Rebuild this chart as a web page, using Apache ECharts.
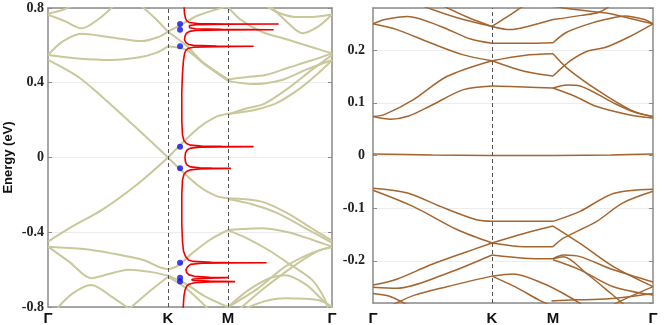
<!DOCTYPE html>
<html>
<head>
<meta charset="utf-8">
<script src="https://cdn.jsdelivr.net/npm/echarts@6/dist/echarts.min.js"></script>
<style>
  html, body { margin: 0; padding: 0; background: #fff; }
  #main { width: 664px; height: 325px; }
</style>
</head>
<body>
<div id="main"></div>
<script>
// k-path positions of the high-symmetry points, and their labels
const kTicksLeft = [0, 1, 1.5, 2.366];
const kTicksRight = [0, 1, 1.513, 2.353];
const kLabels = ['Γ', 'K', 'M', 'Γ'];

// ---- left panel bands: [k, E (eV)] ----
const diracUp = [[0, 0.522], [0.25, 0.432], [0.45, 0.325], [0.75, 0.15], [1, 0.0], [1.25, 0.156], [1.39, 0.215], [1.5, 0.234], [1.7, 0.252], [1.9, 0.29], [2.1, 0.37], [2.25, 0.45], [2.366, 0.52]];
const diracUpM = [[1.5, 0.229], [1.65, 0.262], [1.8, 0.287], [2.0, 0.37], [2.2, 0.47], [2.366, 0.548]];
const diracDown = [[0, -0.45], [0.2, -0.37], [0.45, -0.28], [0.75, -0.14], [1, 0.0], [1.25, -0.15], [1.4, -0.205], [1.5, -0.218], [1.78, -0.236], [2.0, -0.3], [2.2, -0.38], [2.366, -0.445]];
const diracDownM = [[1.5, -0.222], [1.7, -0.25], [1.92, -0.3], [2.15, -0.38], [2.366, -0.457]];
const upperA = [[0, 0.764], [0.14, 0.73], [0.28, 0.691], [0.42, 0.74], [0.56, 0.82]];
const upperB = [[0, 0.77], [0.1, 0.785], [0.2, 0.81]];
const upperC = [[0, 0.548], [0.12, 0.62], [0.28, 0.662], [0.5, 0.645], [0.78, 0.623], [0.92, 0.645], [1, 0.673], [1.12, 0.715], [1.25, 0.76], [1.5, 0.81]];
const upperD = [[0, 0.548], [0.25, 0.53], [0.53, 0.522], [0.75, 0.535], [0.9, 0.56], [1, 0.595], [1.155, 0.575], [1.3, 0.5], [1.5, 0.41]];
const upperE = [[0.78, 0.81], [0.9, 0.74], [1, 0.673], [1.15, 0.6], [1.3, 0.505], [1.5, 0.418]];
const upperMA = [[1.5, 0.418], [1.65, 0.43], [1.81, 0.441], [2.0, 0.48], [2.2, 0.52], [2.366, 0.557]];
const upperMB = [[1.5, 0.41], [1.71, 0.393], [1.95, 0.415], [2.15, 0.47], [2.366, 0.522]];
const upperRA = [[1.48, 0.82], [1.6, 0.74], [1.78, 0.673], [2.0, 0.63], [2.2, 0.59], [2.366, 0.557]];
const upperRB = [[1.84, 0.82], [2.0, 0.72], [2.12, 0.665], [2.25, 0.7], [2.366, 0.765]];
const upperRC = [[1.8, 0.82], [1.9, 0.78], [2.06, 0.752], [2.2, 0.752], [2.366, 0.765]];
const lowerA = [[0, -0.477], [0.3, -0.49], [0.53, -0.513], [0.8, -0.55], [0.92, -0.585], [1, -0.598], [1.08, -0.58], [1.2, -0.513], [1.35, -0.44], [1.5, -0.388]];
const lowerB = [[0, -0.477], [0.18, -0.56], [0.36, -0.646], [0.5, -0.625], [0.67, -0.6], [0.85, -0.612], [1, -0.632], [1.14, -0.673], [1.3, -0.74], [1.5, -0.8]];
const lowerC = [[0.06, -0.82], [0.2, -0.73], [0.362, -0.682], [0.52, -0.74], [0.7, -0.82]];
const lowerD = [[0.66, -0.82], [0.82, -0.73], [1, -0.638], [1.15, -0.7], [1.35, -0.82]];
const lowerMA = [[1.5, -0.388], [1.78, -0.379], [2.0, -0.4], [2.2, -0.44], [2.366, -0.477]];
const lowerMB = [[1.5, -0.39], [1.65, -0.43], [1.836, -0.495], [2.0, -0.565], [2.2, -0.655], [2.3, -0.75], [2.34, -0.82]];
const lowerMC = [[1.5, -0.8], [1.75, -0.7], [1.976, -0.584], [2.2, -0.51], [2.366, -0.477]];
const lowerMD = [[1.58, -0.82], [1.8, -0.7], [2.05, -0.58], [2.25, -0.5], [2.366, -0.48]];
const lowerME = [[1.5, -0.8], [1.67, -0.71], [1.85, -0.645], [1.976, -0.63], [2.15, -0.68], [2.3, -0.77], [2.366, -0.8]];
const lowerMF = [[1.6, -0.82], [1.8, -0.77], [1.976, -0.753], [2.25, -0.762], [2.366, -0.8]];

// ---- red curve (DOS) and blue bound-state dots ----
const dosEnergy = [0.82, 0.77, 0.745, 0.73, 0.722, 0.717, 0.7145, 0.714, 0.7135, 0.711, 0.706, 0.7, 0.694, 0.689, 0.6855, 0.684, 0.6825, 0.68, 0.675, 0.665, 0.65, 0.63, 0.615, 0.605, 0.6, 0.5965, 0.595, 0.5935, 0.59, 0.585, 0.575, 0.555, 0.52, 0.45, 0.35, 0.2, 0.12, 0.09, 0.075, 0.066, 0.061, 0.0595, 0.058, 0.0565, 0.055, 0.05, 0.04, 0.025, 0.0, -0.025, -0.04, -0.05, -0.055, -0.0565, -0.058, -0.0595, -0.061, -0.066, -0.075, -0.09, -0.12, -0.2, -0.35, -0.45, -0.5, -0.53, -0.548, -0.556, -0.5605, -0.5615, -0.563, -0.5645, -0.566, -0.572, -0.585, -0.6, -0.615, -0.628, -0.636, -0.6405, -0.643, -0.6455, -0.65, -0.654, -0.658, -0.6615, -0.664, -0.6665, -0.67, -0.678, -0.69, -0.71, -0.74, -0.82];
const dosValue = [2.5, 3, 4, 5.5, 8, 16, 45, 97, 45, 15, 8, 6.5, 8, 14, 40, 92, 40, 14, 8, 5, 3.5, 3, 4.5, 7, 12, 35, 72, 35, 12, 7, 4.5, 3, 2, 1, 0.3, 0.3, 1, 2.5, 5, 9, 20, 40, 72, 40, 18, 9, 5.5, 4, 3.5, 4, 5.5, 9, 18, 30, 49.5, 30, 18, 9, 5, 2.5, 1, 0.3, 0.3, 1, 2, 4, 7, 12, 30, 45, 85, 45, 20, 9, 6, 4.5, 5, 7.5, 13, 28, 47, 28, 12, 10, 12, 28, 53.5, 28, 13, 7.5, 5, 3.5, 2.5, 1.5];
const boundK = 1.1;
const boundE = [0.714, 0.684, 0.595, 0.058, -0.058, -0.563, -0.643, -0.664];

// ---- right panel bands: [k, E (eV)] ----
const condA = [[0, 0.074], [0.15, 0.069], [0.3, 0.075], [0.48, 0.094], [0.76, 0.125], [1, 0.132], [1.27, 0.13], [1.513, 0.128], [1.7, 0.112], [1.88, 0.093], [2.16, 0.077], [2.353, 0.071]];
const condAM = [[1.513, 0.128], [1.63, 0.134], [1.74, 0.132], [2.02, 0.1], [2.2, 0.082], [2.353, 0.074]];
const condB = [[0, 0.074], [0.1, 0.078], [0.34, 0.106], [0.62, 0.15], [1, 0.18], [1.27, 0.19], [1.513, 0.193], [1.63, 0.166], [1.88, 0.125], [2.16, 0.087], [2.353, 0.073]];
const condC = [[0, 0.25], [0.2, 0.239], [0.48, 0.214], [0.76, 0.191], [1, 0.18], [1.27, 0.16], [1.513, 0.151], [1.66, 0.18], [1.8, 0.198], [1.95, 0.205], [2.15, 0.225], [2.353, 0.25]];
const condD = [[0, 0.25], [0.1, 0.258], [0.29, 0.264], [0.57, 0.245], [0.82, 0.221], [1, 0.213], [1.27, 0.213], [1.513, 0.214], [1.62, 0.233], [1.79, 0.248], [1.95, 0.258], [2.12, 0.265], [2.28, 0.258], [2.353, 0.25]];
const condE = [[0.4, 0.285], [0.7, 0.262], [1, 0.245], [1.15, 0.239], [1.3, 0.245], [1.513, 0.258], [1.75, 0.266], [1.9, 0.272], [2.0, 0.285]];
const condF = [[0.58, 0.285], [0.8, 0.262], [1, 0.245], [1.12, 0.262], [1.27, 0.285]];
const condG = [[1.45, 0.285], [1.7, 0.277], [1.97, 0.27], [2.2, 0.258], [2.353, 0.25]];
const flatBand = [[0, 0.003], [0.5, 0.001], [1, 0.0], [1.513, 0.0], [2.0, 0.001], [2.353, 0.003]];
const valA = [[0, -0.062], [0.29, -0.071], [0.57, -0.097], [0.87, -0.122], [1, -0.125], [1.27, -0.125], [1.513, -0.125], [1.74, -0.106], [2.02, -0.072], [2.353, -0.064]];
const valB = [[0, -0.066], [0.34, -0.097], [0.71, -0.141], [1, -0.166], [1.27, -0.173], [1.513, -0.173], [1.6, -0.157], [1.88, -0.125], [2.1, -0.09], [2.353, -0.068]];
const valC = [[0, -0.246], [0.2, -0.235], [0.48, -0.208], [0.76, -0.185], [1, -0.166], [1.27, -0.148], [1.513, -0.134], [1.74, -0.167], [2.02, -0.211], [2.353, -0.249]];
const valD = [[0, -0.25], [0.2, -0.252], [0.62, -0.224], [1, -0.189], [1.27, -0.195], [1.513, -0.196], [1.6, -0.189], [1.74, -0.192], [2.02, -0.217], [2.353, -0.24]];
const valDM = [[1.513, -0.198], [1.74, -0.217], [2.02, -0.249], [2.353, -0.265]];
const valE = [[0.15, -0.285], [0.35, -0.265], [0.62, -0.249], [1, -0.229], [1.18, -0.225], [1.43, -0.243], [1.6, -0.262], [1.77, -0.285]];
const valF = [[0, -0.262], [0.15, -0.268], [0.3, -0.285]];
const valG = [[1, -0.229], [1.2, -0.25], [1.4, -0.275], [1.5, -0.285]];
const valH = [[1.5, -0.276], [1.7, -0.274], [1.9, -0.273], [2.15, -0.268], [2.353, -0.262]];
const valI = [[1.513, -0.196], [1.6, -0.192], [1.8, -0.225], [2.0, -0.262], [2.12, -0.285]];
const valJ = [[2.0, -0.285], [2.16, -0.268], [2.353, -0.249]];

const leftBands = [diracUp, diracUpM, diracDown, diracDownM, upperA, upperB, upperC, upperD, upperE,
  upperMA, upperMB, upperRA, upperRB, upperRC, lowerA, lowerB, lowerC, lowerD,
  lowerMA, lowerMB, lowerMC, lowerMD, lowerME, lowerMF];
const rightBands = [condA, condAM, condB, condC, condD, condE, condF, condG, flatBand,
  valA, valB, valC, valD, valDM, valE, valF, valG, valH, valI, valJ];

// break each band at K and M so the kinks stay sharp
function segments(band, syms) {
  const out = [];
  let cur = [];
  band.forEach((p, i) => {
    cur.push(p);
    if (i > 0 && i < band.length - 1 && syms.indexOf(p[0]) >= 0) {
      out.push(cur);
      cur = [p];
    }
  });
  if (cur.length > 1) out.push(cur);
  return out;
}

function bandSeries(bands, xi, yi, syms, color, width) {
  const list = [];
  bands.forEach(b => segments(b, syms).forEach(seg => list.push({
    type: 'line',
    xAxisIndex: xi,
    yAxisIndex: yi,
    data: seg,
    smooth: 0.3,
    symbol: 'none',
    silent: true,
    lineStyle: { color: color, width: width },
    z: 2,
  })));
  return list;
}

const frame = { show: true, onZero: false, lineStyle: { color: '#8a8a8a', width: 1.5 } };
const tickIn = { show: true, inside: true, length: 4, lineStyle: { color: '#8a8a8a' } };
const yLabel = { fontFamily: 'Liberation Serif', fontWeight: 'bold', fontSize: 14, color: '#222' };
const kLabel = { fontFamily: 'Liberation Sans', fontWeight: 'bold', fontSize: 15, color: '#111' };
const grid1 = '#ececec';

const myChart = echarts.init(document.getElementById('main'));
let option;

option = {
  animation: false,
  backgroundColor: '#fff',
  grid: [
    { left: 48, top: 8, width: 284, height: 299, outerBoundsMode: 'none' },
    { left: 373, top: 8, width: 280, height: 295, outerBoundsMode: 'none' },
  ],
  xAxis: [
    {
      gridIndex: 0, type: 'value', min: 0, max: 2.366,
      axisLine: frame, axisTick: { show: false }, splitLine: { show: false },
      axisLabel: Object.assign({
        customValues: kTicksLeft, margin: 4,
        formatter: v => kLabels[kTicksLeft.indexOf(v)],
      }, kLabel),
    },
    { gridIndex: 0, type: 'value', position: 'top', min: 0, max: 2.366, axisLine: frame, axisTick: { show: false }, axisLabel: { show: false }, splitLine: { show: false } },
    { gridIndex: 0, type: 'value', min: -133.2, max: 150.2, show: false },
    {
      gridIndex: 1, type: 'value', min: 0, max: 2.353,
      axisLine: frame, axisTick: { show: false }, splitLine: { show: false },
      axisLabel: Object.assign({
        customValues: kTicksRight, margin: 8,
        formatter: v => kLabels[kTicksRight.indexOf(v)],
      }, kLabel),
    },
    { gridIndex: 1, type: 'value', position: 'top', min: 0, max: 2.353, axisLine: frame, axisTick: { show: false }, axisLabel: { show: false }, splitLine: { show: false } },
  ],
  yAxis: [
    {
      gridIndex: 0, type: 'value', min: -0.8, max: 0.8, interval: 0.4,
      axisLine: frame, axisTick: tickIn,
      splitLine: { show: true, lineStyle: { color: grid1, width: 1 } },
      axisLabel: Object.assign({ margin: 4 }, yLabel),
      name: 'Energy (eV)', nameLocation: 'middle', nameGap: 33,
      nameTextStyle: { fontFamily: 'Liberation Sans', fontWeight: 'bold', fontSize: 13, color: '#111' },
    },
    {
      gridIndex: 0, type: 'value', position: 'right', min: -0.8, max: 0.8, interval: 0.4,
      axisLine: frame, axisTick: tickIn, axisLabel: { show: false }, splitLine: { show: false },
    },
    {
      gridIndex: 1, type: 'value', min: -0.28, max: 0.28,
      axisLine: frame, axisTick: tickIn,
      splitLine: { show: true, lineStyle: { color: grid1, width: 1 } },
      axisLabel: Object.assign({ margin: 8, showMinLabel: false, showMaxLabel: false }, yLabel),
    },
    {
      gridIndex: 1, type: 'value', position: 'right', min: -0.28, max: 0.28,
      axisLine: frame, axisTick: tickIn, axisLabel: { show: false }, splitLine: { show: false },
    },
  ],
  series: [
    {
      type: 'line', xAxisIndex: 0, yAxisIndex: 0, data: [[0, 0]], symbol: 'none', silent: true,
      markLine: {
        silent: true, symbol: 'none', label: { show: false },
        lineStyle: { color: '#555', type: [4, 3], width: 1 },
        data: [{ xAxis: kTicksLeft[1] }, { xAxis: kTicksLeft[2] }],
      },
    },
    {
      type: 'line', xAxisIndex: 3, yAxisIndex: 2, data: [[0, 0]], symbol: 'none', silent: true,
      markLine: {
        silent: true, symbol: 'none', label: { show: false },
        lineStyle: { color: '#555', type: [4, 3], width: 1 },
        data: [{ xAxis: kTicksRight[1] }],
      },
    },
    ...bandSeries(leftBands, 0, 0, [kTicksLeft[1], kTicksLeft[2]], '#c9c89b', 2),
    ...bandSeries(rightBands, 3, 2, [kTicksRight[1], kTicksRight[2]], '#a5652f', 1.5),
    {
      type: 'line', xAxisIndex: 2, yAxisIndex: 0,
      data: dosEnergy.map((e, i) => [dosValue[i], e]),
      symbol: 'none', silent: true, z: 5,
      lineStyle: { color: '#f00000', width: 1.6 },
    },
    {
      type: 'scatter', xAxisIndex: 0, yAxisIndex: 0,
      data: boundE.map(e => [boundK, e]),
      symbolSize: 6, silent: true, z: 6,
      itemStyle: { color: '#1010ee' },
    },
  ],
};

option && myChart.setOption(option);
</script>
</body>
</html>
